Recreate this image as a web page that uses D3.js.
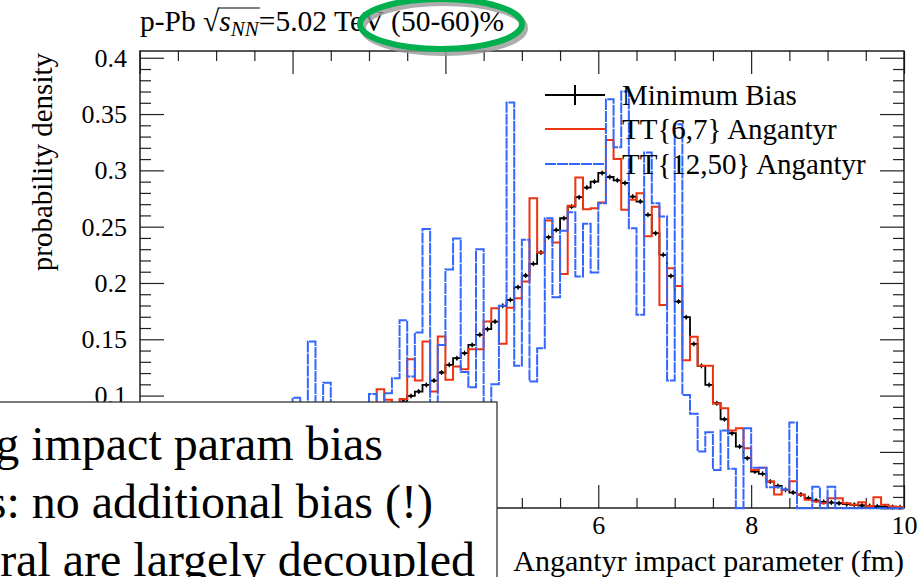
<!DOCTYPE html>
<html>
<head>
<meta charset="utf-8">
<script src="https://cdn.jsdelivr.net/npm/d3@7/dist/d3.min.js"></script>
<style>
    body { margin: 0; background: #fff; overflow: hidden; }
    svg { display: block; font-family: "Liberation Serif", "Times New Roman", serif; }
</style>
</head>
<body>
<script>
// impact parameter bins: 0..10 fm, width 0.1
const binWidth = 0.1;

const minBias = [
    0, 0, 0, 0, 0, 0, 0, 0, 0, 0,
    0, 0, 0, 0, 0, 0.0005, 0.001, 0.002, 0.003, 0.005,
    0.007, 0.010, 0.013, 0.017, 0.022, 0.028, 0.035, 0.043, 0.052, 0.061,
    0.070, 0.077, 0.083, 0.089, 0.0947, 0.0997, 0.1036, 0.1095, 0.1133, 0.1205,
    0.1273, 0.1332, 0.1377, 0.145, 0.154, 0.159, 0.1657, 0.1797, 0.185, 0.1963,
    0.2066, 0.217, 0.227, 0.2407, 0.247, 0.2575, 0.2679, 0.2762, 0.2847, 0.290,
    0.2977, 0.2941, 0.2912, 0.2888, 0.2767, 0.2723, 0.2605, 0.2442, 0.225, 0.2063,
    0.1835, 0.1696, 0.1459, 0.1264, 0.1095, 0.0932, 0.079, 0.0666, 0.0547, 0.0444,
    0.0325, 0.0305, 0.0236, 0.0198, 0.0163, 0.0139, 0.0121, 0.0089, 0.0068, 0.0056,
    0.005, 0.0044, 0.0036, 0.003, 0.0024, 0.002, 0.0015, 0.0012, 0.001, 0.0008
];

const tt67 = [
    0, 0, 0, 0, 0, 0, 0, 0, 0, 0,
    0, 0, 0, 0, 0, 0, 0, 0, 0.005, 0.008,
    0.012, 0.016, 0.02, 0.025, 0.031, 0.038, 0.045, 0.053, 0.06, 0.07,
    0.078, 0.1057, 0.0962, 0.085, 0.097, 0.1323, 0.1133, 0.148, 0.1036, 0.1524,
    0.114, 0.1258, 0.1234, 0.1412, 0.1412, 0.1657, 0.1776, 0.146, 0.178, 0.1865,
    0.2013, 0.2753, 0.227, 0.2554, 0.236, 0.208, 0.2685, 0.2936, 0.2655, 0.2664,
    0.2714, 0.327, 0.31, 0.265, 0.274, 0.2797, 0.2415, 0.2676, 0.1805, 0.2131,
    0.1974, 0.1314, 0.1522, 0.1264, 0.1264, 0.093, 0.0888, 0.069, 0.071, 0.0533,
    0.034, 0.036, 0.0236, 0.0122, 0.0163, 0.024, 0.012, 0.0074, 0.006, 0.0044,
    0.0089, 0.0089, 0.0044, 0.003, 0.0052, 0.002, 0.0098, 0.003, 0.0015, 0.001
];

const tt1250 = [
    0, 0, 0, 0, 0, 0, 0, 0, 0, 0,
    0, 0, 0, 0, 0, 0, 0, 0, 0, 0,
    0.098, 0.05, 0.148, 0.04, 0.1115, 0.03, 0.06, 0.04, 0.07, 0.05,
    0.1015, 0.07, 0.102, 0.1155, 0.167, 0.117, 0.156, 0.248, 0.06, 0.145,
    0.212, 0.2395, 0.121, 0.1075, 0.23, 0.07, 0.110, 0.1797, 0.3602, 0.1264,
    0.2383, 0.1125, 0.142, 0.2575, 0.1874, 0.2463, 0.2629, 0.2057, 0.2525, 0.2093,
    0.2709, 0.3632, 0.3206, 0.37, 0.2487, 0.1717, 0.3158, 0.2709, 0.259, 0.1133,
    0.341, 0.1006, 0.0838, 0.0503, 0.0675, 0.034, 0.069, 0.035, 0, 0.071,
    0.036, 0.036, 0.0185, 0.0185, 0.0165, 0.076, 0, 0, 0.019, 0,
    0.019, 0, 0, 0, 0, 0, 0, 0, 0, 0
];

const seriesNames = ["Minimum Bias", "TT{6,7} Angantyr", "TT{12,50} Angantyr"];
const seriesColors = ["#000000", "#ee3311", "#3366ff"];

const xMajorTicks = [0, 2, 4, 6, 8, 10];
const xTickLabels = ["0", "2", "4", "6", "8", "10"];
const xMinorTicks = [0.5, 1, 1.5, 2.5, 3, 3.5, 4.5, 5, 5.5, 6.5, 7, 7.5, 8.5, 9, 9.5];
const yMajorTicks = [0, 0.05, 0.1, 0.15, 0.2, 0.25, 0.3, 0.35, 0.4];
const yTickLabels = ["0", "0.05", "0.1", "0.15", "0.2", "0.25", "0.3", "0.35", "0.4"];
const yMinorTicks = [0.01, 0.02, 0.03, 0.04, 0.06, 0.07, 0.08, 0.09, 0.11, 0.12, 0.13, 0.14,
    0.16, 0.17, 0.18, 0.19, 0.21, 0.22, 0.23, 0.24, 0.26, 0.27, 0.28, 0.29,
    0.31, 0.32, 0.33, 0.34, 0.36, 0.37, 0.38, 0.39];

const slideLines = ["g impact param bias", "s: no additional bias (!)", "ral are largely decoupled"];

const width = 923,
    height = 577,
    frame = {left: 140, right: 904, top: 51, bottom: 508},
    box = {x: -5, y: 402, right: 497};

const svg = d3.select("body")
    .append("svg")
    .attr("width", width)
    .attr("height", height);

const x = d3.scaleLinear()
    .domain([0, 10])
    .range([139.7, 904]);

const y = d3.scaleLinear()
    .domain([0, 0.406])
    .range([508.2, 51]);

// labels that sit under the slide box are not shown in the picture
const hiddenY = v => y(v) > box.y + 12;
const hiddenX = v => x(v) < box.right;

// axes: ticks drawn inside the frame on all four sides
const axisG = svg.append("g").attr("class", "axes");

function tickAxis(axis, tx, ty) {
    const g = axisG.append("g")
        .attr("transform", `translate(${tx},${ty})`)
        .call(axis);
    g.select(".domain").remove();
    g.selectAll(".tick line").attr("stroke", "#222").attr("stroke-width", 1.2);
    g.selectAll("text")
        .attr("font-size", 26)
        .attr("font-family", "Liberation Serif")
        .attr("fill", "#000");
    return g;
}

// left
tickAxis(d3.axisLeft(y).tickValues(yMajorTicks).tickSizeInner(-24).tickPadding(13)
    .tickFormat((d, i) => hiddenY(d) ? "" : yTickLabels[i]), frame.left, 0);
tickAxis(d3.axisLeft(y).tickValues(yMinorTicks).tickSizeInner(-11).tickFormat(""), frame.left, 0);
// right
tickAxis(d3.axisRight(y).tickValues(yMajorTicks).tickSizeInner(-24).tickFormat(""), frame.right, 0);
tickAxis(d3.axisRight(y).tickValues(yMinorTicks).tickSizeInner(-11).tickFormat(""), frame.right, 0);
// bottom
tickAxis(d3.axisBottom(x).tickValues(xMajorTicks).tickSizeInner(-23).tickPadding(8)
    .tickFormat((d, i) => hiddenX(d) ? "" : xTickLabels[i]), 0, frame.bottom);
tickAxis(d3.axisBottom(x).tickValues(xMinorTicks).tickSizeInner(-10).tickFormat(""), 0, frame.bottom);
// top
tickAxis(d3.axisTop(x).tickValues(xMajorTicks).tickSizeInner(-23).tickFormat(""), 0, frame.top);
tickAxis(d3.axisTop(x).tickValues(xMinorTicks).tickSizeInner(-10).tickFormat(""), 0, frame.top);

svg.append("rect")
    .attr("x", frame.left)
    .attr("y", frame.top)
    .attr("width", frame.right - frame.left)
    .attr("height", frame.bottom - frame.top)
    .attr("fill", "none")
    .attr("stroke", "#111")
    .attr("stroke-width", 1.4);

// histograms as step outlines
const toSteps = vals => {
    const pts = vals.map((v, i) => [i * binWidth, v]);
    pts.push([vals.length * binWidth, vals[vals.length - 1]]);
    return pts;
};

const stepLine = d3.line()
    .x(d => x(d[0]))
    .y(d => y(d[1]))
    .curve(d3.curveStepAfter);

const plot = svg.append("g");

plot.append("path")
    .attr("d", stepLine(toSteps(minBias)))
    .attr("fill", "none")
    .attr("stroke", seriesColors[0])
    .attr("stroke-width", 1.8);

// MB markers + tiny error bars
const mbPts = minBias.map((v, i) => ({c: (i + 0.5) * binWidth, v: v})).filter(d => d.v > 0);
plot.selectAll(".mbErr")
    .data(mbPts)
    .enter().append("line")
    .attr("x1", d => x(d.c)).attr("x2", d => x(d.c))
    .attr("y1", d => y(d.v) - 2.5).attr("y2", d => y(d.v) + 2.5)
    .attr("stroke", "#000").attr("stroke-width", 1.1);
plot.selectAll(".mbDot")
    .data(mbPts)
    .enter().append("circle")
    .attr("cx", d => x(d.c))
    .attr("cy", d => y(d.v))
    .attr("r", 1.7)
    .attr("fill", "#000");

plot.append("path")
    .attr("d", stepLine(toSteps(tt67)))
    .attr("fill", "none")
    .attr("stroke", seriesColors[1])
    .attr("stroke-width", 2);

plot.append("path")
    .attr("d", stepLine(toSteps(tt1250)))
    .attr("fill", "none")
    .attr("stroke", seriesColors[2])
    .attr("stroke-width", 2)
    .attr("stroke-dasharray", "11,1");

// legend
const legend = svg.append("g").attr("transform", "translate(545,0)");
const legendY = [95, 129, 164];

legend.selectAll(".lg")
    .data(seriesNames)
    .enter().append("line")
    .attr("x1", 0).attr("x2", 60)
    .attr("y1", (d, i) => legendY[i]).attr("y2", (d, i) => legendY[i])
    .attr("stroke", (d, i) => seriesColors[i])
    .attr("stroke-width", 2)
    .attr("stroke-dasharray", (d, i) => i === 2 ? "11,1" : null);

legend.append("line")
    .attr("x1", 30).attr("x2", 30)
    .attr("y1", legendY[0] - 10).attr("y2", legendY[0] + 10)
    .attr("stroke", "#000").attr("stroke-width", 2);

legend.selectAll(".lt")
    .data(seriesNames)
    .enter().append("text")
    .attr("x", 77)
    .attr("y", (d, i) => legendY[i] + 10)
    .attr("font-size", 29)
    .attr("fill", "#000")
    .text(d => d);

// axis titles
svg.append("text")
    .attr("x", 904)
    .attr("y", 571)
    .attr("text-anchor", "end")
    .attr("font-size", 30)
    .text("Angantyr impact parameter (fm)");

svg.append("text")
    .attr("transform", "translate(52,53) rotate(-90)")
    .attr("text-anchor", "end")
    .attr("font-size", 29)
    .text("probability density");

// title with sqrt(s_NN)
const title = svg.append("text")
    .attr("x", 140)
    .attr("y", 31)
    .attr("font-size", 29.5);
title.append("tspan").text("p-Pb ");
title.append("tspan").text("\u221A");
title.append("tspan").attr("font-style", "italic").text("s");
title.append("tspan").attr("font-style", "italic").attr("font-size", 21).attr("dy", 5).text("NN");
title.append("tspan").attr("dy", -5).text("=5.02 TeV (50-60)%");

const tn = title.node();
const ovX1 = tn.getStartPositionOfChar(6).x,
    ovX2 = tn.getEndPositionOfChar(8).x;
svg.append("line")
    .attr("x1", ovX1 - 1).attr("x2", ovX2 + 1)
    .attr("y1", 8).attr("y2", 8)
    .attr("stroke", "#000").attr("stroke-width", 1.2);

// green highlight around centrality
const hl = svg.append("g");
hl.append("ellipse")
    .attr("cx", 444).attr("cy", 28)
    .attr("rx", 81).attr("ry", 25)
    .attr("fill", "none")
    .attr("stroke", "#999")
    .attr("stroke-opacity", 0.8)
    .attr("stroke-width", 6);
hl.append("ellipse")
    .attr("cx", 441).attr("cy", 24)
    .attr("rx", 81).attr("ry", 25)
    .attr("fill", "none")
    .attr("stroke", "#00b04f")
    .attr("stroke-width", 6);

// slide text box overlapping the plot
svg.append("rect")
    .attr("x", box.x)
    .attr("y", box.y)
    .attr("width", box.right - box.x)
    .attr("height", 200)
    .attr("fill", "#fff")
    .attr("stroke", "#333")
    .attr("stroke-width", 1.3);

const slideEnds = [383, 433, 475],
    slideBase = [460, 518, 576];
svg.selectAll(".slide")
    .data(slideLines)
    .enter().append("text")
    .attr("x", (d, i) => slideEnds[i])
    .attr("y", (d, i) => slideBase[i])
    .attr("text-anchor", "end")
    .attr("font-size", 48)
    .attr("fill", "#000")
    .text(d => d);
</script>
</body>
</html>
